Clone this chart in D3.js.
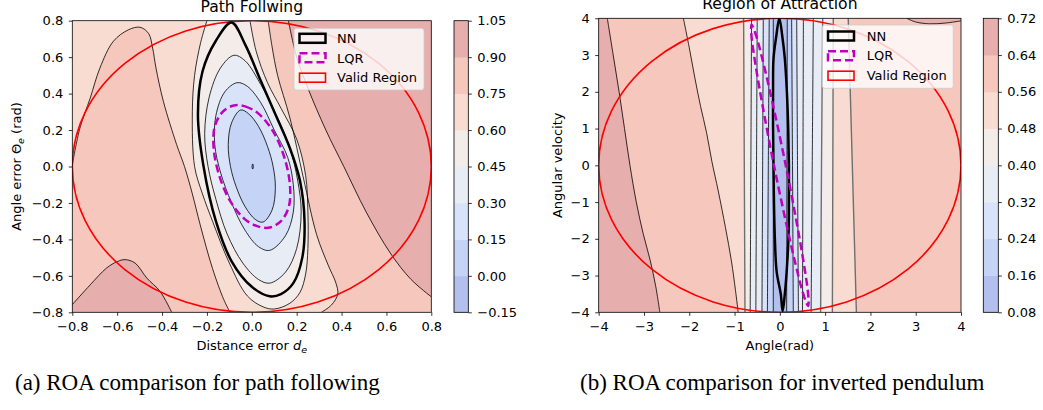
<!DOCTYPE html>
<html><head><meta charset="utf-8">
<script src="https://cdn.jsdelivr.net/npm/d3@7"></script>
<style>
body{margin:0;background:#fff}
svg{display:block}
</style>
</head><body>
<svg id="c" width="1043" height="410" font-family="DejaVu Sans, sans-serif"></svg>
<script>
// ================= DATA =================
// shared filled-contour band colours (lowest band -> highest band)
const bandColors = ["#b3bfec","#c5d3f6","#d8e3fa","#e8ecf5","#f4ece8","#f9dcd1","#f5c7bd","#e7aeae"];

// ---- (a) Path following ----
const pfTitle = "Path Follwing";
const pfLevels = [-0.15, 0.00, 0.15, 0.30, 0.45, 0.60, 0.75, 0.90, 1.05];
const pfXTicks = [-0.8, -0.6, -0.4, -0.2, 0.0, 0.2, 0.4, 0.6, 0.8];
const pfYTicks = [-0.8, -0.6, -0.4, -0.2, 0.0, 0.2, 0.4, 0.6, 0.8];
const pfValidRadius = [0.8, 0.8];
// contour curves  [distance error, angle error]
const pfC000 = [[0.004,0.014],[0.007,0.0],[0.004,-0.014],[0.001,0.0]];
const pfC015 = [[-0.05,0.31],[-0.015,0.29],[0.03,0.22],[0.07,0.11],[0.095,0.0],[0.105,-0.12],[0.09,-0.24],[0.05,-0.305],[0.015,-0.29],[-0.03,-0.22],[-0.07,-0.11],[-0.095,0.0],[-0.105,0.12],[-0.09,0.24]];
const pfC030 = [[-0.065,0.46],[-0.02,0.44],[0.04,0.35],[0.1,0.2],[0.16,0.05],[0.185,-0.1],[0.185,-0.25],[0.15,-0.38],[0.08,-0.46],[0.03,-0.44],[-0.03,-0.35],[-0.09,-0.2],[-0.14,-0.03],[-0.165,0.12],[-0.16,0.28],[-0.12,0.41]];
const pfC045 = [[-0.08,0.61],[-0.03,0.58],[0.04,0.45],[0.11,0.28],[0.17,0.1],[0.205,-0.08],[0.22,-0.25],[0.2,-0.45],[0.15,-0.58],[0.08,-0.64],[0.03,-0.62],[-0.04,-0.53],[-0.11,-0.37],[-0.16,-0.18],[-0.195,0.0],[-0.21,0.18],[-0.19,0.38],[-0.14,0.54]];
const pfC060 = [[-0.2,0.8],[-0.228,0.68],[-0.255,0.5],[-0.265,0.3],[-0.255,0.0],[-0.22,-0.15],[-0.175,-0.3],[-0.1,-0.53],[-0.02,-0.71],[0.05,-0.77],[0.1,-0.782],[0.17,-0.75],[0.215,-0.69],[0.24,-0.59],[0.25,-0.45],[0.25,-0.25],[0.24,-0.05],[0.2,0.15],[0.13,0.32],[0.07,0.46],[0.02,0.63],[-0.008,0.8]];
const pfC075L = [[-0.8,0.01],[-0.766,0.211],[-0.72,0.376],[-0.677,0.54],[-0.617,0.687],[-0.55,0.75],[-0.498,0.764],[-0.46,0.73],[-0.442,0.65],[-0.427,0.54],[-0.394,0.357],[-0.335,0.12],[-0.3,0.0],[-0.265,-0.15],[-0.23,-0.32],[-0.175,-0.56],[-0.125,-0.73],[-0.097,-0.8]];
const pfC075R = [[0.073,0.8],[0.09,0.66],[0.115,0.5],[0.17,0.266],[0.23,-0.063],[0.289,-0.374],[0.34,-0.54],[0.375,-0.64],[0.383,-0.7],[0.355,-0.76],[0.31,-0.8]];
const pfC090L = [[-0.8,-0.758],[-0.72,-0.649],[-0.647,-0.557],[-0.6,-0.522],[-0.565,-0.511],[-0.52,-0.53],[-0.468,-0.612],[-0.409,-0.685],[-0.357,-0.8]];
const pfC090R = [[0.163,0.8],[0.2,0.6],[0.25,0.43],[0.33,0.2],[0.41,0.0],[0.51,-0.25],[0.62,-0.48],[0.71,-0.62],[0.8,-0.715]];
const pfNN  = [[-0.09,0.79],[-0.03,0.67],[0.04,0.47],[0.1,0.3],[0.17,0.1],[0.215,-0.08],[0.235,-0.3],[0.225,-0.5],[0.185,-0.64],[0.13,-0.7],[0.08,-0.712],[0.0,-0.66],[-0.09,-0.52],[-0.16,-0.3],[-0.215,0.0],[-0.24,0.28],[-0.22,0.52],[-0.16,0.69]];
const pfLQR = [[-0.08,0.335],[-0.03,0.33],[0.03,0.29],[0.096,0.19],[0.145,0.05],[0.17,-0.1],[0.165,-0.22],[0.13,-0.3],[0.08,-0.335],[0.03,-0.33],[-0.03,-0.29],[-0.096,-0.19],[-0.145,-0.05],[-0.17,0.1],[-0.165,0.22],[-0.13,0.3]];

// ---- (b) Inverted pendulum ----
const roaTitle = "Region of Attraction";
const roaLevels = [0.08, 0.16, 0.24, 0.32, 0.40, 0.48, 0.56, 0.64, 0.72];
const roaXTicks = [-4, -3, -2, -1, 0, 1, 2, 3, 4];
const roaYTicks = [-4, -3, -2, -1, 0, 1, 2, 3, 4];
const roaValidRadius = [4, 4];
// contour curves  [angle, angular velocity]
const roaC064L = [[-3.81,4],[-3.68,3],[-3.55,2],[-3.43,1],[-3.31,0],[-3.17,-1],[-3.02,-1.85],[-2.86,-2.6],[-2.74,-3.3],[-2.65,-4]];
const roaC056L = [[-2.13,4],[-2.0,3.2],[-1.88,2.4],[-1.75,1.6],[-1.62,0.9],[-1.5,0.1],[-1.36,-0.7],[-1.2,-1.7],[-1.07,-2.6],[-0.98,-3.4],[-0.92,-4]];
const roaC048L = [[-0.80,4],[-0.785,0],[-0.77,-4]];
const roaC040L = [[-0.625,4],[-0.64,0],[-0.655,-4]];
const roaC036L = [[-0.50,4],[-0.515,0],[-0.53,-4]];
const roaC032L = [[-0.366,4],[-0.38,0],[-0.395,-4]];
const roaC024L = [[-0.235,4],[-0.255,0],[-0.275,-4]];
const roaC016L = [[-0.145,4],[-0.145,0],[-0.145,-4]];
const roaC016R = [[0.164,4],[0.157,0],[0.15,-4]];
const roaC024R = [[0.26,4],[0.28,0],[0.297,-4]];
const roaC032R = [[0.372,4],[0.39,0],[0.41,-4]];
const roaC034R = [[0.52,4],[0.51,0],[0.50,-4]];
const roaC036R = [[0.739,4],[0.715,0],[0.69,-4]];
const roaC040R = [[0.946,4],[0.92,0],[0.90,-4]];
const roaC048R = [[1.18,4],[1.17,0],[1.16,-4]];
const roaC056R = [[1.51,4],[1.6,0],[1.69,-4]];
const roaC064R = [[2.8,4],[3.0,3.9],[3.3,3.85],[3.65,3.87],[4,3.93]];
const roaNN  = [[-0.012,4.0],[0.06,3.45],[0.11,2.9],[0.155,2.0],[0.185,1.0],[0.2,0.0],[0.2,-1.0],[0.19,-2.0],[0.15,-2.9],[0.11,-3.5],[0.062,-3.97],[0.02,-3.5],[-0.07,-2.9],[-0.11,-2.0],[-0.13,-1.0],[-0.14,0.0],[-0.15,1.0],[-0.15,2.0],[-0.14,2.9],[-0.08,3.5]];
const roaLQR = [[0.625,-3.83],[0.631,-3.6],[0.534,-2.71],[0.13,0],[-0.35,2.71],[-0.543,3.6],[-0.625,3.83],[-0.631,3.6],[-0.534,2.71],[-0.13,0],[0.35,-2.71],[0.543,-3.6]];

const legendNames = ["NN", "LQR", "Valid Region"];
const captions = ["(a) ROA comparison for path following", "(b) ROA comparison for inverted pendulum"];

// ================= DRAWING =================
const svg = d3.select("#c");
const defs = svg.append("defs");
const SANS = "DejaVu Sans, sans-serif";
const SERIF = "Liberation Serif, Times New Roman, serif";

function panel(P) {
  const x = d3.scaleLinear().domain(P.xd).range([P.l, P.r]);
  const y = d3.scaleLinear().domain(P.yd).range([P.b, P.t]);
  const g = svg.append("g");
  defs.append("clipPath").attr("id", P.id).append("rect")
    .attr("x", P.l).attr("y", P.t).attr("width", P.r - P.l).attr("height", P.b - P.t);
  const gc = g.append("g").attr("clip-path", `url(#${P.id})`);
  const lineO = d3.line().x(d => x(d[0])).y(d => y(d[1])).curve(d3.curveCatmullRom.alpha(0.5));
  const lineC = d3.line().x(d => x(d[0])).y(d => y(d[1])).curve(d3.curveCatmullRomClosed.alpha(0.5));
  const corner = k => ({bl:[P.xd[0],P.yd[0]], br:[P.xd[1],P.yd[0]], tl:[P.xd[0],P.yd[1]], tr:[P.xd[1],P.yd[1]]})[k];

  gc.append("rect").attr("x", P.l).attr("y", P.t).attr("width", P.r - P.l).attr("height", P.b - P.t)
    .attr("fill", bandColors[P.baseBand]);
  P.fills.forEach(f => {
    let d;
    if (f.closed) d = lineC(f.closed);
    else if (f.between) d = lineO(f.between[0]) + lineO(f.between[1].slice().reverse()).replace(/^M/, "L") + "Z";
    else d = lineO(f.open) + f.corners.map(k => { const c = corner(k); return `L${x(c[0])},${y(c[1])}`; }).join("") + "Z";
    gc.append("path").attr("d", d).attr("fill", bandColors[f.band]).attr("stroke", bandColors[f.band]).attr("stroke-width", 0.3);
  });
  P.lines.forEach(l => {
    gc.append("path").attr("d", l.closed ? lineC(l.pts) : lineO(l.pts))
      .attr("fill", "none").attr("stroke", l.gray ? "#6f6f6f" : "#000")
      .attr("stroke-width", l.gray ? 1.4 : 0.8);
  });
  gc.append("ellipse").attr("cx", x(0)).attr("cy", y(0))
    .attr("rx", x(P.valid[0]) - x(0)).attr("ry", y(0) - y(P.valid[1]))
    .attr("fill", "none").attr("stroke", "#ff0000").attr("stroke-width", 1.6);
  gc.append("path").attr("d", lineC(P.nn)).attr("fill", "none").attr("stroke", "#000")
    .attr("stroke-width", 2.5).attr("stroke-linejoin", "round");
  gc.append("path").attr("d", lineC(P.lqr)).attr("fill", "none").attr("stroke", "#bf00bf")
    .attr("stroke-width", 2.5).attr("stroke-dasharray", "8,4");

  g.append("rect").attr("x", P.l).attr("y", P.t).attr("width", P.r - P.l).attr("height", P.b - P.t)
    .attr("fill", "none").attr("stroke", "#000").attr("stroke-width", 0.8);

  const ax = g.append("g").attr("transform", `translate(0,${P.b})`)
    .call(d3.axisBottom(x).tickValues(P.xt).tickFormat(P.fmt).tickSize(3.5).tickPadding(5.5));
  const ay = g.append("g").attr("transform", `translate(${P.l},0)`)
    .call(d3.axisLeft(y).tickValues(P.yt).tickFormat(P.fmt).tickSize(3.5).tickPadding(5.5));
  [ax, ay].forEach(a => {
    a.select(".domain").remove();
    a.selectAll("text").attr("font-size", "13px").attr("font-family", SANS).attr("fill", "#000");
    a.selectAll("line").attr("stroke", "#000").attr("stroke-width", 0.8);
  });

  g.append("text").attr("x", (P.l + P.r) / 2).attr("y", P.titleY).attr("text-anchor", "middle")
    .attr("font-family", SANS).attr("font-size", "15.6px").text(P.title);
  const xl = g.append("text").attr("x", (P.l + P.r) / 2).attr("y", 349.5).attr("text-anchor", "middle")
    .attr("font-family", SANS).attr("font-size", "13px");
  P.xlabel(xl);
  const yl = g.append("text").attr("transform", `translate(${P.ylx},${(P.t + P.b) / 2}) rotate(-90)`)
    .attr("text-anchor", "middle").attr("font-family", SANS).attr("font-size", "13px");
  P.ylabel(yl);

  const cy = d3.scaleLinear().domain([P.levels[0], P.levels[P.levels.length - 1]]).range([P.b, P.t]);
  const cb = svg.append("g");
  cb.selectAll("rect.band").data(d3.range(P.levels.length - 1)).join("rect")
    .attr("x", P.cbl).attr("width", P.cbr - P.cbl)
    .attr("y", i => cy(P.levels[i + 1])).attr("height", i => cy(P.levels[i]) - cy(P.levels[i + 1]) + 0.4)
    .attr("fill", i => bandColors[i]);
  cb.append("rect").attr("x", P.cbl).attr("y", P.t).attr("width", P.cbr - P.cbl).attr("height", P.b - P.t)
    .attr("fill", "none").attr("stroke", "#000").attr("stroke-width", 0.8);
  const cax = cb.append("g").attr("transform", `translate(${P.cbr},0)`)
    .call(d3.axisRight(cy).tickValues(P.levels).tickFormat(d3.format(".2f")).tickSize(3.5).tickPadding(5.5));
  cax.select(".domain").remove();
  cax.selectAll("text").attr("font-size", "13px").attr("font-family", SANS).attr("fill", "#000");
  cax.selectAll("line").attr("stroke", "#000").attr("stroke-width", 0.8);

  const L = P.leg;
  const lg = svg.append("g");
  lg.append("rect").attr("x", L.x).attr("y", L.y).attr("width", L.w).attr("height", L.h)
    .attr("rx", 2.5).attr("fill", "#fff").attr("fill-opacity", 0.8)
    .attr("stroke", "#cccccc").attr("stroke-width", 0.8);
  const styles = [
    {stroke:"#000", sw:2.5, dash:null},
    {stroke:"#bf00bf", sw:2.5, dash:"8,4"},
    {stroke:"#ff0000", sw:1.6, dash:null}
  ];
  legendNames.forEach((name, i) => {
    const ry = L.rows[i];
    lg.append("rect").attr("x", L.px).attr("y", ry - 4.5).attr("width", 26).attr("height", 9)
      .attr("fill", "none").attr("stroke", styles[i].stroke).attr("stroke-width", styles[i].sw)
      .attr("stroke-dasharray", styles[i].dash);
    lg.append("text").attr("x", L.tx).attr("y", ry + 4.7).attr("font-family", SANS)
      .attr("font-size", "13px").text(name);
  });
}

const fmt1 = d3.format(".1f");
const fmt0 = d3.format("d");

panel({
  id: "clipA", l: 72.3, r: 431.3, t: 20.7, b: 312.3,
  xd: [-0.8, 0.8], yd: [-0.8, 0.8], xt: pfXTicks, yt: pfYTicks, fmt: fmt1,
  baseBand: 5,
  fills: [
    {open: pfC075L, corners: ["bl"], band: 6},
    {open: pfC090L, corners: ["bl"], band: 7},
    {open: pfC075R, corners: ["br", "tr"], band: 6},
    {open: pfC090R, corners: ["tr"], band: 7},
    {open: pfC060, corners: [], band: 4},
    {closed: pfC045, band: 3},
    {closed: pfC030, band: 2},
    {closed: pfC015, band: 1},
    {closed: pfC000, band: 0}
  ],
  lines: [
    {pts: pfC075L}, {pts: pfC090L}, {pts: pfC075R}, {pts: pfC090R}, {pts: pfC060},
    {pts: pfC045, closed: true}, {pts: pfC030, closed: true}, {pts: pfC015, closed: true}, {pts: pfC000, closed: true}
  ],
  valid: pfValidRadius, nn: pfNN, lqr: pfLQR,
  title: pfTitle, titleY: 12,
  xlabel: t => { t.append("tspan").text("Distance error ");
                 t.append("tspan").attr("font-style", "italic").text("d");
                 t.append("tspan").attr("font-style", "italic").attr("font-size", "9.5px").attr("dy", 3).text("e"); },
  ylx: 20.5,
  ylabel: t => { t.append("tspan").text("Angle error Θ");
                 t.append("tspan").attr("font-style", "italic").attr("font-size", "9.5px").attr("dy", 3).text("e");
                 t.append("tspan").attr("dy", -3).text(" (rad)"); },
  levels: pfLevels, cbl: 454, cbr: 468.3,
  leg: {x: 294, y: 28.3, w: 130, h: 61.7, rows: [38.3, 57.8, 77.7], px: 299.5, tx: 337}
});

panel({
  id: "clipB", l: 598.7, r: 961, t: 18.3, b: 312.3,
  xd: [-4, 4], yd: [-4, 4], xt: roaXTicks, yt: roaYTicks, fmt: fmt0,
  baseBand: 5,
  fills: [
    {open: roaC056L, corners: ["bl", "tl"], band: 6},
    {open: roaC064L, corners: ["bl", "tl"], band: 7},
    {open: roaC056R, corners: ["br", "tr"], band: 6},
    {open: roaC064R, corners: ["tr"], band: 7},
    {between: [roaC048L, roaC048R], band: 4},
    {between: [roaC040L, roaC040R], band: 3},
    {between: [roaC032L, roaC032R], band: 2},
    {between: [roaC024L, roaC024R], band: 1},
    {between: [roaC016L, roaC016R], band: 0}
  ],
  lines: [
    {pts: roaC064L}, {pts: roaC056L}, {pts: roaC048L, gray: true}, {pts: roaC040L}, {pts: roaC036L},
    {pts: roaC032L}, {pts: roaC024L}, {pts: roaC016L},
    {pts: roaC016R}, {pts: roaC024R}, {pts: roaC032R}, {pts: roaC034R}, {pts: roaC036R},
    {pts: roaC040R, gray: true}, {pts: roaC048R, gray: true}, {pts: roaC056R, gray: true}, {pts: roaC064R}
  ],
  valid: roaValidRadius, nn: roaNN, lqr: roaLQR,
  title: roaTitle, titleY: 8.5,
  xlabel: t => { t.text("Angle(rad)"); },
  ylx: 561.5,
  ylabel: t => { t.text("Angular velocity"); },
  levels: roaLevels, cbl: 983.3, cbr: 998.3,
  leg: {x: 822.3, y: 25, w: 131, h: 63.3, rows: [36, 55.7, 75.7], px: 828, tx: 866.7}
});

svg.append("text").attr("x", 15).attr("y", 390).attr("font-family", SERIF)
  .attr("font-size", "23px").text(captions[0]);
svg.append("text").attr("x", 580).attr("y", 390).attr("font-family", SERIF)
  .attr("font-size", "23px").text(captions[1]);
</script>
</body></html>
